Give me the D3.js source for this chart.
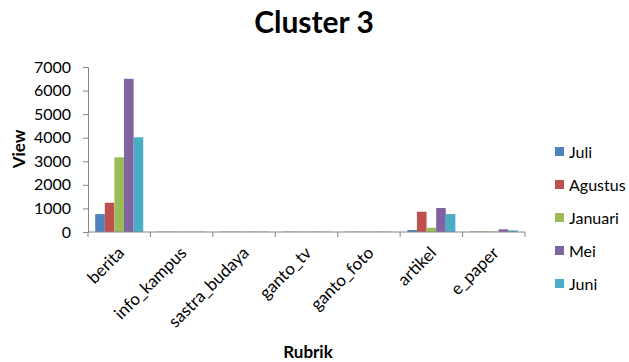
<!DOCTYPE html>
<html>
<head>
<meta charset="utf-8">
<script src="https://cdn.jsdelivr.net/npm/d3@7"></script>
<style>
  html, body { margin: 0; padding: 0; background: #fff; }
  svg { display: block; font-family: Lato, "Open Sans", sans-serif; }
</style>
</head>
<body>
<svg id="chart" width="629" height="362"></svg>
<script>
// Page views per section (rubrik), one series per month
const categories = ["berita", "info_kampus", "sastra_budaya", "ganto_tv", "ganto_foto", "artikel", "e_paper"];
const seriesNames = ["Juli", "Agustus", "Januari", "Mei", "Juni"];
const juli    = [760, 15, 15, 15, 15, 85, 20];
const agustus = [1240, 15, 15, 15, 15, 860, 20];
const januari = [3170, 15, 15, 15, 15, 180, 20];
const mei     = [6500, 15, 15, 15, 15, 1020, 115];
const juni    = [4020, 15, 15, 15, 15, 760, 70];
const yTicks  = [0, 1000, 2000, 3000, 4000, 5000, 6000, 7000];

const seriesValues = [juli, agustus, januari, mei, juni];
const colors = ["#4F81BD", "#C0504D", "#9BBB59", "#8064A2", "#4BACC6"];

const svg = d3.select("#chart");
const plot = { left: 88, right: 525, top: 67, bottom: 232 };

const x0 = d3.scaleBand().domain(categories).range([plot.left, plot.right]).padding(0);
// Bars fill the group with a gap of 1.5 bar widths split around the cluster
const barW = x0.bandwidth() / (seriesNames.length + 1.5);
const x1 = d3.scaleBand().domain(seriesNames)
  .range([barW * 0.75, barW * 0.75 + barW * seriesNames.length]).padding(0);

const y = d3.scaleLinear().domain([0, 7000]).range([plot.bottom, plot.top]);

// Bars
const groups = svg.append("g").selectAll("g")
  .data(categories)
  .join("g")
  .attr("transform", d => `translate(${x0(d)},0)`);

groups.selectAll("rect")
  .data((c, i) => seriesNames.map((s, k) => ({ s, v: seriesValues[k][i], k })))
  .join("rect")
  .attr("x", d => x1(d.s))
  .attr("width", x1.bandwidth())
  .attr("y", d => y(d.v))
  .attr("height", d => y(0) - y(d.v))
  .attr("fill", d => colors[d.k]);

// Y axis
const yAxis = d3.axisLeft(y).tickValues(yTicks).tickSize(5).tickPadding(12).tickFormat(d3.format("d"));
const yg = svg.append("g").attr("transform", `translate(${plot.left},0)`).call(yAxis);
yg.select(".domain").attr("stroke", "#868686");
yg.selectAll(".tick line").attr("stroke", "#868686");
yg.selectAll(".tick text").attr("font-size", 16).attr("fill", "#000").attr("font-family", "Lato, sans-serif");

// X axis with tick marks between categories
const xg = svg.append("g").attr("transform", `translate(0,${plot.bottom})`);
xg.append("line").attr("x1", plot.left).attr("x2", plot.right).attr("y1", 0).attr("y2", 0).attr("stroke", "#868686");
const boundaries = categories.map(c => x0(c)).concat([plot.right]);
xg.selectAll("line.tk").data(boundaries).join("line").attr("class", "tk")
  .attr("x1", d => d).attr("x2", d => d).attr("y1", 0).attr("y2", 5).attr("stroke", "#868686");
xg.selectAll("text").data(categories).join("text")
  .attr("transform", d => `translate(${x0(d) + x0.bandwidth() / 2 + 6},${22}) rotate(-45)`)
  .attr("text-anchor", "end")
  .attr("font-size", 17)
  .attr("fill", "#000")
  .text(d => d);

// Title and axis titles
svg.append("text").attr("x", 314).attr("y", 33).attr("text-anchor", "middle")
  .attr("font-size", 30).attr("font-weight", "bold").text("Cluster 3");
svg.append("text").attr("transform", "translate(25,149) rotate(-90)").attr("text-anchor", "middle")
  .attr("font-size", 17).attr("font-weight", "bold").text("View");
svg.append("text").attr("x", 308).attr("y", 358).attr("text-anchor", "middle")
  .attr("font-size", 17).attr("font-weight", "bold").text("Rubrik");

// Legend
const legend = svg.append("g").selectAll("g").data(seriesNames).join("g")
  .attr("transform", (d, i) => `translate(555,${152 + i * 33})`);
legend.append("rect").attr("x", 0).attr("y", -5).attr("width", 9).attr("height", 9).attr("fill", (d, i) => colors[i]);
legend.append("text").attr("x", 14).attr("y", 0).attr("dy", "0.35em").attr("font-size", 16).text(d => d);
</script>
</body>
</html>
